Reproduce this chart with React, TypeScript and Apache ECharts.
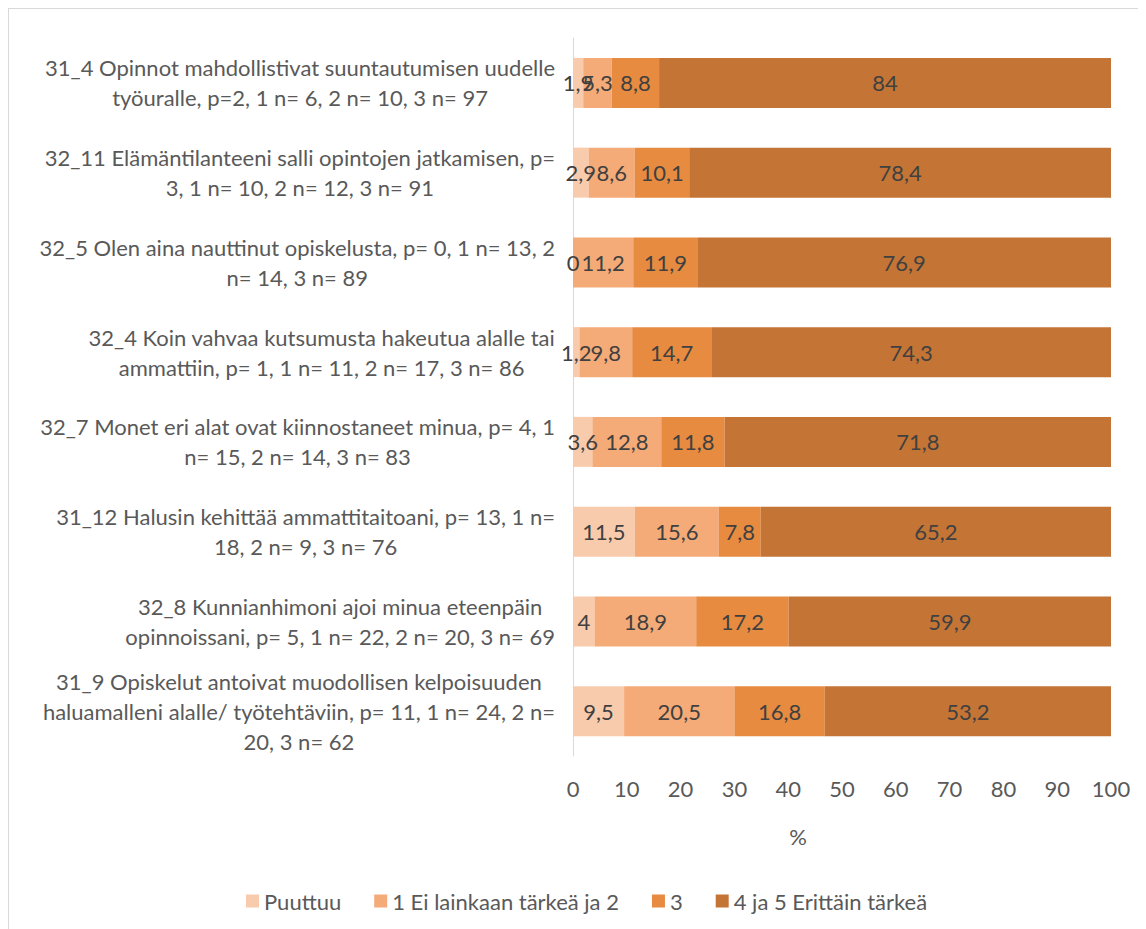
import React, { useEffect, useRef } from "react";
import * as echarts from "echarts";

const categories: string[] = [
  "31_4 Opinnot mahdollistivat suuntautumisen uudelle\ntyöuralle, p=2, 1 n= 6, 2 n= 10, 3 n= 97",
  "32_11 Elämäntilanteeni salli opintojen jatkamisen, p=\n3, 1 n= 10, 2 n= 12, 3 n= 91",
  "32_5 Olen aina nauttinut opiskelusta, p= 0, 1 n= 13, 2\nn= 14, 3 n= 89",
  "32_4 Koin vahvaa kutsumusta hakeutua alalle tai\nammattiin, p= 1, 1 n= 11, 2 n= 17, 3 n= 86",
  "32_7 Monet eri alat ovat kiinnostaneet minua, p= 4, 1\nn= 15, 2 n= 14, 3 n= 83",
  "31_12 Halusin kehittää ammattitaitoani, p= 13, 1 n=\n18, 2 n= 9, 3 n= 76",
  "32_8 Kunnianhimoni ajoi minua eteenpäin\nopinnoissani, p= 5, 1 n= 22, 2 n= 20, 3 n= 69",
  "31_9 Opiskelut antoivat muodollisen kelpoisuuden\nhaluamalleni alalle/ työtehtäviin, p= 11, 1 n= 24, 2 n=\n20, 3 n= 62",
];

const seriesNames: string[] = ["Puuttuu", "1 Ei lainkaan tärkeä ja 2", "3", "4 ja 5 Erittäin tärkeä"];

const puuttuu: number[] = [1.9, 2.9, 0, 1.2, 3.6, 11.5, 4, 9.5];
const eiTarkea: number[] = [5.3, 8.6, 11.2, 9.8, 12.8, 15.6, 18.9, 20.5];
const kolme: number[] = [8.8, 10.1, 11.9, 14.7, 11.8, 7.8, 17.2, 16.8];
const erittain: number[] = [84, 78.4, 76.9, 74.3, 71.8, 65.2, 59.9, 53.2];

const xTicks: number[] = [0, 10, 20, 30, 40, 50, 60, 70, 80, 90, 100];

const colors = ["#F8CBAD", "#F4AB78", "#E78B40", "#C47535"];
const FONT = "Lato";
const FS = 22;

export default function App() {
  const ref = useRef<HTMLDivElement>(null);
  useEffect(() => {
    if (!ref.current) return;
    const chart = echarts.init(ref.current, undefined, { renderer: "svg" });
    const values = [puuttuu, eiTarkea, kolme, erittain];
    const option: any = {
      animation: false,
      color: colors,
      textStyle: { fontFamily: FONT },
      grid: { left: 564, right: 35, top: 29, height: 718, containLabel: false },
      xAxis: {
        type: "value",
        min: xTicks[0],
        max: xTicks[xTicks.length - 1],
        interval: 10,
        axisLine: { show: false },
        axisTick: { show: false },
        splitLine: { show: false },
        axisLabel: { color: "#595959", fontSize: FS, fontFamily: FONT, margin: 21 },
      },
      yAxis: {
        type: "category",
        inverse: true,
        data: categories,
        axisLine: { show: true, lineStyle: { color: "#D9D9D9", width: 1 } },
        axisTick: { show: false },
        axisLabel: {
          align: "right",
          margin: 18,
          formatter: (v: string) =>
            v
              .split("\n")
              .map((l) => `{c|${l}}`)
              .join("\n"),
          rich: {
            c: { align: "center", fontSize: FS, lineHeight: 30, color: "#595959", fontFamily: FONT },
          },
        },
      },
      legend: {
        left: 232,
        top: 876,
        icon: "rect",
        itemWidth: 13,
        itemHeight: 13,
        itemGap: 33,
        textStyle: { color: "#595959", fontSize: FS, fontFamily: FONT },
        data: seriesNames,
      },
      graphic: [
        {
          type: "text",
          x: 789,
          y: 827,
          style: {
            text: "%",
            fill: "#595959",
            fontSize: FS,
            fontFamily: FONT,
            textAlign: "center",
            textVerticalAlign: "middle",
          },
        },
      ],
      series: seriesNames.map((name, i) => ({
        name,
        type: "bar",
        stack: "total",
        barWidth: 50,
        data: values[i],
        itemStyle: { color: colors[i] },
        label: {
          show: true,
          position: "inside",
          color: "#404040",
          fontSize: FS,
          fontFamily: FONT,
          formatter: (p: any) => String(p.value).replace(".", ","),
        },
      })),
    };
    chart.setOption(option);
    return () => chart.dispose();
  }, []);
  return (
    <div
      ref={ref}
      style={{
        width: 1138,
        height: 921,
        boxSizing: "border-box",
        borderLeft: "1px solid #D9D9D9",
        borderTop: "1px solid #D9D9D9",
      }}
    />
  );
}
